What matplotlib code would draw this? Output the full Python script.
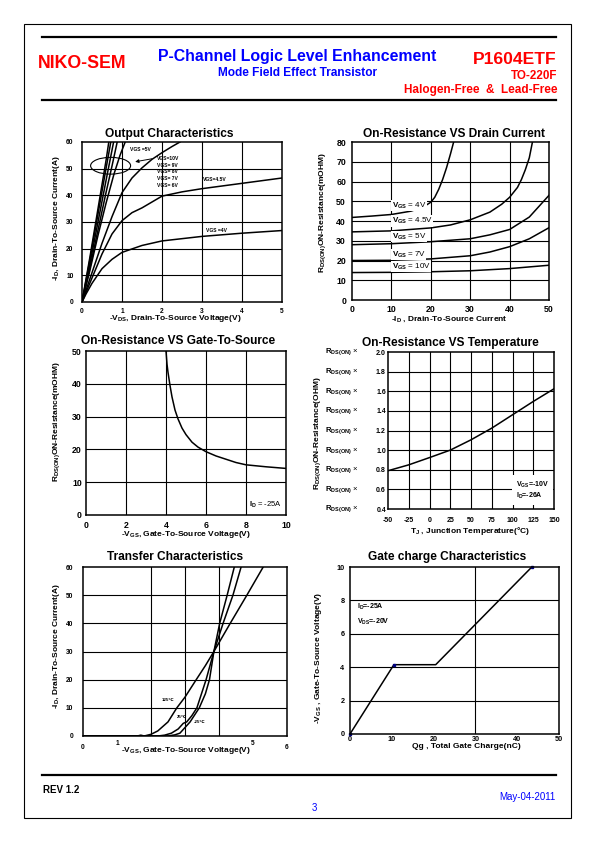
import matplotlib
matplotlib.use('Agg')
import matplotlib.pyplot as plt
from matplotlib.patches import Ellipse, Rectangle
from matplotlib.lines import Line2D
from matplotlib.transforms import blended_transform_factory

plt.rcParams['font.family'] = ['Liberation Sans', 'DejaVu Sans']
plt.rcParams['font.weight'] = 'bold'
plt.rcParams['mathtext.fontset'] = 'custom'
plt.rcParams['mathtext.rm'] = 'Liberation Sans:bold'
plt.rcParams['mathtext.it'] = 'Liberation Sans:bold'
plt.rcParams['mathtext.bf'] = 'Liberation Sans:bold'
plt.rcParams['mathtext.default'] = 'rm'
plt.rcParams['axes.unicode_minus'] = False

# ---------------- data ----------------
# Output characteristics (-VDS [V], -ID [A])
out_vds_10 = [0, 0.2, 0.4, 0.6, 0.67]
out_id_10 = [0, 17, 35, 53, 60]
out_vds_9 = [0, 0.2, 0.4, 0.6, 0.72]
out_id_9 = [0, 16, 33, 50, 60]
out_vds_8 = [0, 0.2, 0.4, 0.6, 0.79]
out_id_8 = [0, 14.5, 30, 45.5, 60]
out_vds_7 = [0, 0.2, 0.4, 0.6, 0.75, 0.88]
out_id_7 = [0, 13, 27, 41, 51, 60]
out_vds_6 = [0, 0.2, 0.4, 0.6, 0.8, 0.95, 1.08]
out_id_6 = [0, 12, 25, 37, 48, 55, 60]
out_vds_5 = [0, 0.25, 0.5, 0.75, 1.0, 1.25, 1.5, 1.75, 2.0, 2.25, 2.45]
out_id_5 = [0, 11, 22, 32, 41, 46.5, 50.3, 53.5, 56, 58.3, 60]
out_vds_45 = [0, 0.25, 0.5, 0.75, 1.0, 1.25, 1.5, 2.0, 2.5, 3.0, 4.0, 5.0]
out_id_45 = [0, 9, 18, 25.5, 30.5, 33.5, 35.3, 39.7, 41.3, 42.5, 44.5, 46.5]
out_vds_4 = [0, 0.1, 0.25, 0.5, 0.75, 1.0, 1.5, 2.0, 3.0, 4.0, 5.0]
out_id_4 = [0, 3, 7, 12.5, 16, 18.6, 21.2, 22.9, 24.6, 25.8, 26.8]

# On-resistance vs drain current (-ID [A], RDS(on) [mOhm])
rid_id_4 = [0, 5, 10, 15, 18, 20, 21, 22, 23, 24, 25, 25.8]
rid_r_4 = [41.8, 42.5, 43.3, 45, 47, 49.5, 52, 56, 61, 67, 74, 80]
rid_id_45 = [0, 10, 20, 25, 30, 35, 38, 40, 42, 43, 44, 45, 45.8]
rid_r_45 = [34.5, 35, 36.5, 38, 40.6, 44.5, 48.5, 52, 57, 61, 66, 72, 80]
rid_id_5 = [0, 10, 20, 30, 35, 40, 45, 50]
rid_r_5 = [28, 28.5, 29.5, 31, 33, 35.7, 42, 53]
rid_id_7 = [0, 10, 20, 30, 35, 40, 45, 50]
rid_r_7 = [20, 20.1, 20.8, 22.4, 24.3, 27, 31, 36.6]
rid_id_10 = [0, 10, 20, 30, 40, 50]
rid_r_10 = [13.9, 14, 14.3, 14.8, 15.9, 17.6]
rid_labels = ['4V', '4.5V', '5V', '7V', '10V']
rid_label_y = [47.8, 40, 32.2, 22.8, 16.9]

# On-resistance vs gate-to-source voltage
rvg_vgs = [4.0, 4.05, 4.1, 4.2, 4.3, 4.45, 4.6, 4.8, 5.0, 5.3, 5.6, 6.0, 6.5, 7.0, 7.5, 8.0, 9.0, 10.0]
rvg_r = [50, 46, 43.5, 39.5, 36, 32, 29.3, 26.5, 24.5, 22.2, 20.7, 19.3, 18, 17, 16, 15.3, 14.7, 14.2]

# On-resistance vs temperature (normalized)
rt_tj = [-50, -25, 0, 25, 50, 75, 100, 125, 150]
rt_r = [0.79, 0.85, 0.924, 1.0, 1.105, 1.224, 1.36, 1.496, 1.625]

# Transfer characteristics (-VGS [V], -ID [A])
tr_vgs_125 = [0, 1.6, 1.7, 1.8, 2.0, 2.2, 2.5, 2.76, 3.0, 3.33, 3.6, 3.85, 4.33, 4.82, 5.3]
tr_id_125 = [0, 0, 0.3, 0, 0.6, 1.8, 5, 10, 13.8, 20, 25, 30, 40, 50, 60]
tr_vgs_25 = [0, 2.2, 2.4, 2.6, 2.8, 2.95, 3.05, 3.2, 3.35, 3.62, 3.85, 4.12, 4.41, 4.65]
tr_id_25 = [0, 0, 0.3, 1.0, 2.5, 4.5, 5.0, 7.2, 10, 20, 30, 40, 50, 60]
tr_vgs_m25 = [0, 2.5, 2.7, 2.85, 3.0, 3.15, 3.42, 3.6, 3.72, 3.85, 4.02, 4.24, 4.45]
tr_id_m25 = [0, 0, 0.4, 1.0, 3.0, 5.0, 10, 15, 20, 30, 40, 50, 60]
tr_xticklabels = ['0', '1', '', '', '', '5', '6']

# Gate charge
gc_qg = [0, 10.5, 20.5, 43.5]
gc_vgs = [0, 4.15, 4.15, 10]
gc_mark_qg = [0, 10.5, 43.5]
gc_mark_vgs = [0, 4.15, 10]

# ---------------- page ----------------
W, H = 595, 842
fig = plt.figure(figsize=(W / 100, H / 100), dpi=100)
bg = fig.add_axes([0, 0, 1, 1])
bg.set_xlim(0, W)
bg.set_ylim(H, 0)
bg.axis('off')

RED = '#ff0000'
BLUE = '#0000ff'

bg.add_patch(Rectangle((24, 24), 547, 794, fill=False, lw=0.8, ec='black'))
for yy in (37, 100, 775):
    bg.add_line(Line2D([42, 556], [yy, yy], lw=1.6, color='black'))

bg.text(38, 67.7, 'NIKO-SEM', color=RED, fontsize=12.8, fontweight='bold', ha='left', va='baseline')
bg.text(297, 60.7, 'P-Channel Logic Level Enhancement', color=BLUE, fontsize=11.4,
        fontweight='bold', ha='center', va='baseline')
bg.text(297, 76.5, 'Mode Field Effect Transistor', color=BLUE, fontsize=8.6,
        fontweight='bold', ha='center', va='baseline')
bg.text(557, 63.5, 'P1604ETF', color=RED, fontsize=12.6, fontweight='bold', ha='right', va='baseline')
bg.text(557, 78.8, 'TO-220F', color=RED, fontsize=8.4, fontweight='bold', ha='right', va='baseline')
bg.text(557, 93.3, 'Halogen-Free  &  Lead-Free', color=RED, fontsize=8.5, fontweight='bold',
        ha='right', va='baseline')

bg.text(43, 790, 'REV 1.2', color='black', fontsize=7, fontweight='bold', ha='left', va='center')
bg.text(556, 797, 'May-04-2011', color=BLUE, fontsize=7, fontweight='normal', ha='right', va='center')
bg.text(314, 808, '3', color=BLUE, fontsize=7, fontweight='normal', ha='center', va='center')

TITLE_FS = 8.6
bg.text(169.5, 134, 'Output Characteristics', fontsize=TITLE_FS, fontweight='bold', ha='center', va='center')
bg.text(453.8, 134, 'On-Resistance VS Drain Current', fontsize=TITLE_FS, fontweight='bold', ha='center', va='center')
bg.text(178.3, 341.5, 'On-Resistance VS Gate-To-Source', fontsize=TITLE_FS, fontweight='bold', ha='center', va='center')
bg.text(450, 343, 'On-Resistance VS Temperature', fontsize=TITLE_FS, fontweight='bold', ha='center', va='center')
bg.text(174.7, 557, 'Transfer Characteristics', fontsize=TITLE_FS, fontweight='bold', ha='center', va='center')
bg.text(447.5, 557, 'Gate charge Characteristics', fontsize=TITLE_FS, fontweight='bold', ha='center', va='center')


def make_ax(rect, xlim, ylim, xticks, yticks, tick_fs, xpad, ypad, vgrid, hgrid):
    L, T, R, B = rect
    ax = fig.add_axes([L / W, 1 - B / H, (R - L) / W, (B - T) / H])
    ax.set_xlim(*xlim)
    ax.set_ylim(*ylim)
    ax.set_xticks(xticks)
    ax.set_yticks(yticks)
    ax.tick_params(axis='both', length=0, labelsize=tick_fs)
    ax.tick_params(axis='x', pad=xpad)
    ax.tick_params(axis='y', pad=ypad)
    for lab in ax.get_xticklabels() + ax.get_yticklabels():
        lab.set_fontweight('bold')
    for g in vgrid:
        ax.axvline(g, color='black', lw=0.8, zorder=1)
    for g in hgrid:
        ax.axhline(g, color='black', lw=0.8, zorder=1)
    for s in ax.spines.values():
        s.set_linewidth(1.1)
        s.set_zorder(5)
    return ax


def set_labels(ax, rect, xl, xpos, yl, ypos, fs=6.0):
    L, T, R, B = rect
    ax.set_xlabel(xl, fontsize=fs, fontweight='bold')
    ax.xaxis.label.set_va('center')
    ax.xaxis.set_label_coords((xpos[0] - L) / (R - L), (B - xpos[1]) / (B - T))
    ax.set_ylabel(yl, fontsize=fs, fontweight='bold')
    ax.yaxis.label.set_va('center')
    ax.yaxis.set_label_coords((ypos[0] - L) / (R - L), (B - ypos[1]) / (B - T))


LW = 1.1

# ---- Chart 1: Output characteristics ----
r1 = (82, 142, 282, 302)
ax1 = make_ax(r1, (0, 5), (0, 60), range(0, 6), range(0, 61, 10), 4.8, 4.0, 6.0,
              [1, 2, 3, 4], [10, 20, 30, 40, 50])
for xs, ys in [(out_vds_10, out_id_10), (out_vds_9, out_id_9), (out_vds_8, out_id_8),
               (out_vds_7, out_id_7), (out_vds_6, out_id_6), (out_vds_5, out_id_5),
               (out_vds_45, out_id_45), (out_vds_4, out_id_4)]:
    ax1.plot(xs, ys, color='black', lw=LW, zorder=3)
ax1.add_patch(Ellipse((0.715, 51.1), 1.0, 6.3, fill=False, lw=0.8, ec='black', zorder=4))
ax1.annotate('', xy=(1.26, 52.4), xytext=(1.82, 53.9),
             arrowprops=dict(arrowstyle='-|>', lw=0.7, color='black', mutation_scale=5))
LFS1 = 3.6
ax1.text(1.21, 57.3, 'VGS =5V', fontsize=LFS1, fontweight='bold', va='center')
for txt, yy in [('VGS=10V', 53.7), ('VGS= 9V', 51.2), ('VGS= 8V', 48.8), ('VGS= 7V', 46.3), ('VGS= 6V', 43.8)]:
    ax1.text(1.88, yy, txt, fontsize=LFS1, fontweight='bold', va='center')
ax1.text(3.03, 45.8, 'VGS=4.5V', fontsize=LFS1, fontweight='bold', va='center')
ax1.text(3.11, 26.8, 'VGS =4V', fontsize=LFS1, fontweight='bold', va='center')
set_labels(ax1, r1, '-$V_{DS}$, Drain-To-Source Voltage(V)', (175.5, 319),
           '-$I_{D}$, Drain-To-Source Current(A)', (56, 218))

# ---- Chart 2: On-resistance vs drain current ----
r2 = (352, 142, 549, 300)
ax2 = make_ax(r2, (0, 50), (0, 80), range(0, 51, 10), range(0, 81, 10), 6.3, 3.5, 4.3,
              [10, 20, 30, 40], [10, 20, 30, 40, 50, 60, 70])
for xs, ys in [(rid_id_4, rid_r_4), (rid_id_45, rid_r_45), (rid_id_5, rid_r_5),
               (rid_id_7, rid_r_7), (rid_id_10, rid_r_10)]:
    ax2.plot(xs, ys, color='black', lw=LW, zorder=3)
for lab, yy in zip(rid_labels, rid_label_y):
    ax2.text(10.1, yy, '$V_{GS}$ = ' + lab, fontsize=5.8, fontweight='normal', va='center', zorder=4,
             bbox=dict(fc='white', ec='none', pad=0.3))
set_labels(ax2, r2, '-$I_{D}$ , Drain-To-Source Current', (449, 319),
           '$R_{DS(ON)}$ON-Resistance(mOHM)', (323, 213))

# ---- Chart 3: On-resistance vs VGS ----
r3 = (86, 351, 286, 515)
ax3 = make_ax(r3, (0, 10), (0, 50), range(0, 11, 2), range(0, 51, 10), 6.3, 4.5, 3.0,
              [2, 4, 6, 8], [10, 20, 30, 40])
ax3.plot(rvg_vgs, rvg_r, color='black', lw=LW, zorder=3)
ax3.text(9.8, 3.0, '$I_{D}$ = -25A', fontsize=5.5, fontweight='normal', ha='right', va='center')
set_labels(ax3, r3, '-$V_{GS}$, Gate-To-Source Voltage(V)', (186, 534.5),
           '$R_{DS(ON)}$ON-Resistance(mOHM)', (56.5, 422))

# ---- Chart 4: On-resistance vs temperature ----
r4 = (388, 352, 554, 509)
rt_yticks = [0.4, 0.6, 0.8, 1.0, 1.2, 1.4, 1.6, 1.8, 2.0]
ax4 = make_ax(r4, (-50, 150), (0.4, 2.0), range(-50, 151, 25), rt_yticks, 5.0, 5.5, 1.5,
              [-25, 0, 25, 50, 75, 100, 125], [0.6, 0.8, 1.0, 1.2, 1.4, 1.6, 1.8])
ax4.set_yticklabels(['%.1f' % t for t in rt_yticks], fontweight='bold')
ax4.plot(rt_tj, rt_r, color='black', lw=LW, zorder=3)
tr4 = blended_transform_factory(ax4.transAxes, ax4.transData)
for t in rt_yticks:
    ax4.text(-0.18, t, '$R_{DS(ON)}$ \u00d7', transform=tr4, fontsize=5.6, fontweight='normal',
             ha='right', va='center')
ax4.text(104, 0.59, '$V_{GS}$=-10V\n$I_{D}$=-26A', fontsize=5.0, ha='left', va='center',
         linespacing=1.2, zorder=4, bbox=dict(fc='white', ec='none', pad=3))
set_labels(ax4, r4, '$T_{J}$ , Junction Temperature(\u00b0C)', (470, 531),
           '$R_{DS(ON)}$ON-Resistance(OHM)', (317.5, 433))

# ---- Chart 5: Transfer characteristics ----
r5 = (83, 567, 287, 736)
ax5 = make_ax(r5, (0, 6), (0, 60), range(0, 7), range(0, 61, 10), 4.8, 6.0, 7.0,
              [2, 3, 4], [10, 20, 30, 40, 50])
ax5.set_xticklabels(tr_xticklabels, fontweight='bold')
for xs, ys in [(tr_vgs_125, tr_id_125), (tr_vgs_25, tr_id_25), (tr_vgs_m25, tr_id_m25)]:
    ax5.plot(xs, ys, color='black', lw=LW, zorder=3)
ax5.text(2.5, 12.8, '125\u2103', fontsize=3.2, ha='center', va='center')
ax5.text(2.9, 6.9, '25\u2103', fontsize=3.2, ha='center', va='center')
ax5.text(3.44, 5.1, '-25\u2103', fontsize=3.2, ha='center', va='center')
set_labels(ax5, r5, '-$V_{GS}$, Gate-To-Source Voltage(V)', (186, 750),
           '-$I_{D}$, Drain-To-Source Current(A)', (56, 646))
ticks5 = ax5.xaxis.get_major_ticks()
ticks5[1].set_pad(3.0)
ticks5[5].set_pad(3.0)

# ---- Chart 6: Gate charge ----
r6 = (350, 567, 559, 734)
ax6 = make_ax(r6, (0, 50), (0, 10), range(0, 51, 10), range(0, 11, 2), 5.2, 1.2, 4.0,
              [30], [2, 4, 6, 8])
ax6.plot(gc_qg, gc_vgs, color='black', lw=LW, zorder=3)
ax6.plot(gc_mark_qg, gc_mark_vgs, ls='none', marker='s', ms=1.8, color='#000080', zorder=4, clip_on=False)
ax6.text(1.6, 7.62, '$I_{D}$=-25A', fontsize=5.0, ha='left', va='center')
ax6.text(1.6, 6.72, '$V_{DS}$=-20V', fontsize=5.0, ha='left', va='center')
set_labels(ax6, r6, 'Qg , Total Gate Charge(nC)', (466, 746.5),
           '-$V_{GS}$ , Gate-To-Source Voltage(V)', (318, 658))

fig.savefig('out.png', dpi=100)
